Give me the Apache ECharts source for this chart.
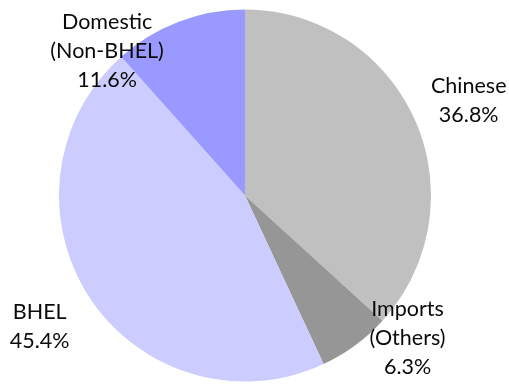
<!DOCTYPE html>
<html>
<head>
<meta charset="utf-8">
<script src="https://cdn.jsdelivr.net/npm/echarts@6/dist/echarts.min.js"></script>
<style>
html,body{margin:0;padding:0;background:#fff;}
#chart{width:509px;height:384px;}
</style>
</head>
<body>
<div id="chart"></div>
<script>
const categories = ['Chinese', 'Imports\n(Others)', 'BHEL', 'Domestic\n(Non-BHEL)'];
const values = [36.8, 6.3, 45.4, 11.6];
const colors = ['#c0c0c0', '#969696', '#ccccff', '#9999ff'];
// label placement: radial distance as multiple of radius, angular shift (deg) from slice mid-angle
const labelDist = [1.306, 1.161, 1.308, 1.072];
const labelShift = [0.9, -12.5, 0.9, -22.9];

const CX = 245, CY = 195.5, R = 186;
const total = values.reduce((a, b) => a + b, 0);
const midAngles = [];
let acc = 0;
values.forEach(v => { midAngles.push((acc + v / 2) / total * 360); acc += v; });

const chart = echarts.init(document.getElementById('chart'));
chart.setOption({
  animation: false,
  series: [{
    type: 'pie',
    center: [CX, CY],
    radius: [0, R],
    startAngle: 90,
    clockwise: true,
    data: categories.map((c, i) => ({ name: c, value: values[i], itemStyle: { color: colors[i] } })),
    itemStyle: { borderWidth: 0 },
    label: {
      show: true,
      position: 'outside',
      formatter: '{b}\n{c}%',
      fontFamily: 'Lato',
      fontSize: 21.5,
      lineHeight: 29,
      color: '#0a0a0a',
      align: 'center',
      overflow: 'none',
      edgeDistance: 0
    },
    labelLine: { show: false },
    emphasis: { disabled: true },
    labelLayout: function (p) {
      const i = p.dataIndex;
      const a = (midAngles[i] + labelShift[i]) * Math.PI / 180;
      const d = R * labelDist[i];
      return {
        x: CX + d * Math.sin(a),
        y: CY - d * Math.cos(a),
        align: 'center',
        verticalAlign: 'middle',
        width: 200
      };
    }
  }]
});
</script>
</body>
</html>
